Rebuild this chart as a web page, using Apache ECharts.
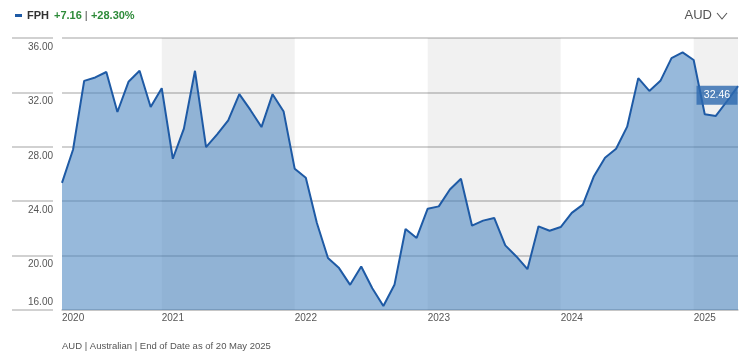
<!DOCTYPE html>
<html>
<head>
<meta charset="utf-8">
<script src="https://cdn.jsdelivr.net/npm/echarts@6/dist/echarts.min.js"></script>
<style>
html,body{margin:0;padding:0;background:#fff;}
#chart{width:750px;height:360px;}
</style>
</head>
<body>
<div id="chart"></div>
<script>
// ---- data ----
const months = [
  'Apr 2020','May 2020','Jun 2020','Jul 2020','Aug 2020','Sep 2020','Oct 2020','Nov 2020','Dec 2020',
  'Jan 2021','Feb 2021','Mar 2021','Apr 2021','May 2021','Jun 2021','Jul 2021','Aug 2021','Sep 2021','Oct 2021','Nov 2021','Dec 2021',
  'Jan 2022','Feb 2022','Mar 2022','Apr 2022','May 2022','Jun 2022','Jul 2022','Aug 2022','Sep 2022','Oct 2022','Nov 2022','Dec 2022',
  'Jan 2023','Feb 2023','Mar 2023','Apr 2023','May 2023','Jun 2023','Jul 2023','Aug 2023','Sep 2023','Oct 2023','Nov 2023','Dec 2023',
  'Jan 2024','Feb 2024','Mar 2024','Apr 2024','May 2024','Jun 2024','Jul 2024','Aug 2024','Sep 2024','Oct 2024','Nov 2024','Dec 2024',
  'Jan 2025','Feb 2025','Mar 2025','Apr 2025','May 2025'
];
const prices = [
  25.35, 27.80, 32.85, 33.10, 33.50, 30.56, 32.78, 33.59, 30.93,
  32.31, 27.12, 29.34, 33.59, 27.98, 28.92, 29.95, 31.87, 30.71, 29.45, 31.87, 30.59,
  26.38, 25.72, 22.40, 19.82, 19.08, 17.85, 19.20, 17.60, 16.30, 17.85, 21.96, 21.30,
  23.45, 23.62, 24.86, 25.65, 22.20, 22.57, 22.77, 20.75, 19.94, 19.00, 22.15, 21.83,
  22.10, 23.14, 23.75, 25.84, 27.20, 27.86, 29.48, 33.05, 32.11, 32.85, 34.52, 34.94,
  34.38, 30.39, 30.27, 31.35, 32.46
];
const shadedBands = [
  ['Jan 2021', 'Jan 2022'],
  ['Jan 2023', 'Jan 2024'],
  ['Jan 2025', 'May 2025']
];
const yTicks = { min: 16, max: 36, interval: 4 };
const ticker = 'FPH';
const changeAbs = '+7.16';
const changePct = '+28.30%';
const currency = 'AUD';
const footerText = 'AUD | Australian | End of Date as of 20 May 2025';

// ---- style ----
const FONT = "'Liberation Sans Narrow','Liberation Sans',Roboto,sans-serif";
const LINE = '#1e5aa5';
const GRIDC = '#c2c2c2';
const TXT = '#555555';

const chart = echarts.init(document.getElementById('chart'), null, {renderer: 'canvas'});
const lastIdx = prices.length - 1;

const option = {
  animation: false,
  backgroundColor: '#ffffff',
  textStyle: { fontFamily: FONT },
  title: [{
    left: 15, top: 10, padding: 0,
    text: '{d|}{n|' + ticker + '}{g|' + changeAbs + '}{s||}{g|' + changePct + '}',
    textStyle: {
      rich: {
        d: { backgroundColor: LINE, width: 7, height: 3, padding: 0 },
        n: { fontFamily: FONT, fontSize: 11, fontWeight: 'bold', color: '#333', padding: [0, 5, 0, 5] },
        g: { fontFamily: FONT, fontSize: 11, color: '#2e8b3a' },
        s: { fontFamily: FONT, fontSize: 11, color: '#888', padding: [0, 3, 0, 3] }
      }
    }
  }, {
    right: 38, top: 9, padding: 0,
    text: currency,
    textStyle: { fontFamily: FONT, fontSize: 13, fontWeight: 'normal', color: TXT }
  }, {
    left: 62, top: 341, padding: 0,
    text: footerText,
    textStyle: { fontFamily: FONT, fontSize: 9.5, fontWeight: 'normal', color: TXT }
  }],
  graphic: [{
    type: 'polyline',
    shape: { points: [[717, 13], [722, 19], [727, 13]] },
    style: { stroke: TXT, lineWidth: 1.1, fill: null }
  }],
  grid: [
    { left: 62, right: 12, top: 38, bottom: 50 },
    { left: 12, width: 41, top: 38, bottom: 50 }
  ],
  xAxis: [{
    type: 'category',
    gridIndex: 0,
    data: months,
    boundaryGap: false,
    axisLine: { show: true, lineStyle: { color: GRIDC, width: 1.5 } },
    axisTick: { show: false },
    splitLine: { show: false },
    axisLabel: {
      interval: (i, v) => i === 0 || v.indexOf('Jan') === 0,
      formatter: v => v.split(' ')[1],
      align: 'left',
      margin: 3,
      fontFamily: FONT,
      fontSize: 10,
      color: TXT
    }
  }, {
    type: 'value', gridIndex: 1, show: false, min: 0, max: 1
  }],
  yAxis: [{
    type: 'value',
    gridIndex: 0,
    min: yTicks.min, max: yTicks.max, interval: yTicks.interval,
    axisLine: { show: false },
    axisTick: { show: false },
    splitLine: { show: true, lineStyle: { color: GRIDC, width: 1.5 } },
    axisLabel: {
      margin: 9,
      formatter: v => v === yTicks.min ? '{lo|' + v.toFixed(2) + '}' : '{hi|' + v.toFixed(2) + '}',
      rich: {
        hi: { fontFamily: FONT, fontSize: 10, color: TXT, padding: [18, 0, 0, 0] },
        lo: { fontFamily: FONT, fontSize: 10, color: TXT, padding: [0, 0, 15, 0] }
      }
    }
  }, {
    type: 'value',
    gridIndex: 1,
    min: yTicks.min, max: yTicks.max, interval: yTicks.interval,
    axisLine: { show: false },
    axisTick: { show: false },
    axisLabel: { show: false },
    splitLine: { show: true, lineStyle: { color: GRIDC, width: 1.5 } }
  }],
  series: [{
    name: 'bands',
    type: 'line',
    xAxisIndex: 0, yAxisIndex: 0,
    data: [],
    z: 1,
    silent: true,
    markArea: {
      silent: true,
      itemStyle: { color: 'rgba(0,0,0,0.055)' },
      data: shadedBands.map(b => [{ xAxis: b[0] }, { xAxis: b[1] }])
    }
  }, {
    name: ticker,
    type: 'line',
    xAxisIndex: 0, yAxisIndex: 0,
    data: prices,
    z: 2,
    symbol: 'none',
    lineStyle: { color: LINE, width: 2 },
    areaStyle: { color: 'rgba(70,130,190,0.56)', opacity: 1 },
    markPoint: {
      symbol: 'rect',
      symbolSize: [41, 19],
      symbolOffset: [-21, 9],
      itemStyle: { color: 'rgba(45,105,175,0.8)' },
      label: {
        show: true,
        color: '#ffffff',
        fontFamily: FONT,
        fontSize: 10.5,
        formatter: p => p.value.toFixed(2)
      },
      data: [{ coord: [lastIdx, prices[lastIdx]], value: prices[lastIdx] }]
    }
  }]
};
chart.setOption(option);
</script>
</body>
</html>
